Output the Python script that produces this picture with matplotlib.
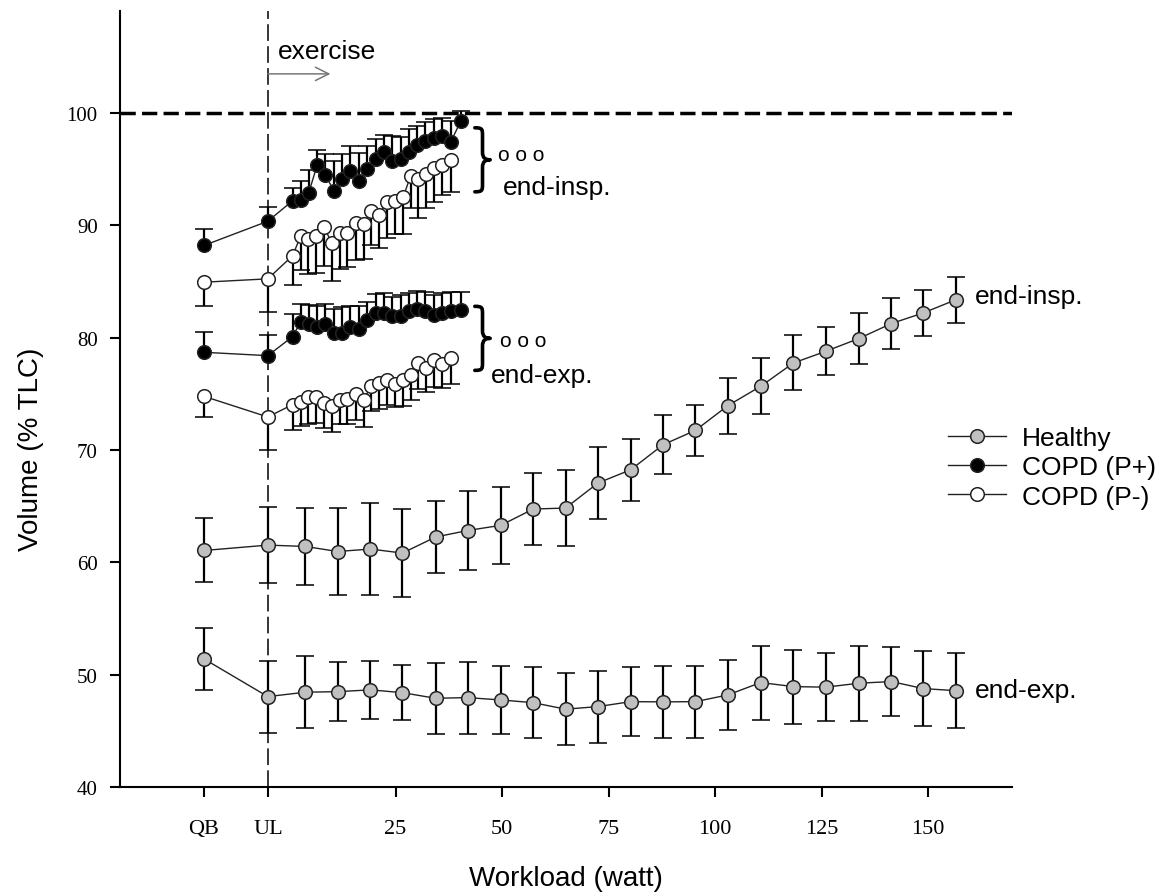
import numpy as np
import matplotlib.pyplot as plt
from matplotlib.path import Path
from matplotlib.patches import PathPatch

plt.rcParams['font.family'] = ['Liberation Sans', 'DejaVu Sans']
plt.rcParams['lines.scale_dashes'] = False

# x axis: QB and UL are placed left of the watt scale
tick_pos = [-20, -5, 25, 50, 75, 100, 125, 150]
tick_labels = ["QB", "UL", "25", "50", "75", "100", "125", "150"]

# Healthy
healthy_x = [-20, -5, 3.8, 11.4, 19.1, 26.6, 34.4, 41.9, 49.7, 57.3, 64.9, 72.5,
             80.2, 87.8, 95.4, 103.0, 110.7, 118.4, 126.0, 133.7, 141.4, 148.9, 156.6]
healthy_insp = [61.06, 61.54, 61.42, 60.97, 61.19, 60.83, 62.26, 62.84, 63.3, 64.75, 64.84, 67.07,
                68.25, 70.48, 71.76, 73.96, 75.68, 77.76, 78.8, 79.93, 81.27, 82.22, 83.4]
healthy_insp_err = [2.85, 3.4, 3.4, 3.85, 4.1, 3.9, 3.2, 3.55, 3.4, 3.2, 3.4, 3.2,
                    2.75, 2.65, 2.3, 2.5, 2.5, 2.45, 2.15, 2.3, 2.3, 2.05, 2.05]
healthy_exp = [51.41, 48.05, 48.44, 48.49, 48.65, 48.4, 47.9, 47.96, 47.75, 47.51, 46.93, 47.16,
               47.6, 47.58, 47.6, 48.2, 49.3, 48.94, 48.89, 49.24, 49.39, 48.76, 48.58]
healthy_exp_err = [2.75, 3.2, 3.2, 2.6, 2.6, 2.45, 3.15, 3.2, 3.0, 3.15, 3.2, 3.2,
                   3.1, 3.2, 3.2, 3.1, 3.3, 3.3, 3.05, 3.35, 3.1, 3.35, 3.35]

# COPD (P+)
pplus_x = [-20, -5, 0.8, 2.7, 4.6, 6.6, 8.5, 10.5, 12.5, 14.4, 16.4, 18.3, 20.3,
           22.2, 24.2, 26.2, 28.1, 30.1, 32.0, 34.0, 36.0, 37.9, 40.3]
pplus_insp = [88.22, 90.38, 92.2, 92.3, 92.9, 95.4, 94.5, 93.1, 94.1, 94.85, 93.95, 95.0, 95.9,
              96.5, 95.7, 95.9, 96.5, 97.2, 97.5, 97.8, 98.0, 97.4, 99.3]
pplus_insp_err = [1.5, 1.25, 1.1, 1.7, 2.0, 1.35, 1.85, 2.6, 2.3, 2.2, 2.5, 2.1, 1.8,
                  1.6, 2.3, 2.0, 2.1, 1.7, 1.7, 1.7, 1.6, 1.9, 0.9]
pplus_exp = [78.71, 78.41, 80.1, 81.4, 81.2, 81.0, 81.2, 80.4, 80.4, 81.0, 80.8, 81.6, 82.2,
             82.2, 81.9, 81.9, 82.35, 82.6, 82.35, 82.05, 82.2, 82.35, 82.45]
pplus_exp_err = [1.8, 1.8, 2.0, 1.6, 1.7, 1.8, 1.8, 2.2, 2.3, 1.8, 2.0, 1.6, 1.7,
                 1.8, 1.7, 1.9, 1.6, 1.6, 1.7, 1.8, 1.8, 1.7, 1.6]

# COPD (P-)
pminus_x = [-20, -5, 0.8, 2.7, 4.5, 6.4, 8.1, 10.1, 11.9, 13.7, 15.6, 17.5, 19.3,
            21.1, 22.9, 24.9, 26.8, 28.5, 30.3, 32.2, 34.0, 36.0, 38.0]
pminus_insp = [84.95, 85.25, 87.3, 89.05, 88.8, 89.1, 89.9, 88.4, 89.35, 89.3, 90.2, 90.1, 91.3,
               90.9, 92.1, 92.2, 92.55, 94.4, 94.1, 94.6, 95.1, 95.35, 95.8]
pminus_insp_err = [2.1, 2.95, 2.6, 3.0, 3.1, 3.3, 3.5, 3.3, 3.2, 3.0, 3.3, 3.1, 3.0,
                   2.9, 3.2, 3.0, 3.3, 2.8, 3.4, 3.0, 3.0, 2.6, 2.8]
pminus_exp = [74.79, 72.95, 74.05, 74.25, 74.7, 74.7, 74.2, 73.9, 74.5, 74.55, 75.0, 74.5, 75.7,
              76.0, 76.2, 75.9, 76.2, 76.7, 77.8, 77.3, 78.05, 77.7, 78.2]
pminus_exp_err = [1.8, 2.9, 2.3, 2.1, 2.4, 2.3, 2.2, 2.3, 2.2, 2.2, 2.3, 2.4, 2.2,
                  2.3, 2.2, 2.1, 2.3, 2.2, 2.4, 2.1, 2.4, 2.2, 2.3]

fig = plt.figure(figsize=(11.65, 8.95), dpi=100)
ax = fig.add_axes([120 / 1165, 107 / 895, 892 / 1165, 776 / 895])

line_kw = dict(color='#222222', lw=1.0, ms=9.8, mew=1.1, ecolor='black',
               elinewidth=1.6, capsize=6.8, capthick=1.6)


def draw(x, y, err, face, side=None):
    e = np.asarray(err)
    z = np.zeros_like(e)
    if side == 'up':
        yerr = [z, e]
    elif side == 'down':
        yerr = [e, z]
    else:
        yerr = e
    eb = ax.errorbar(x, y, yerr=yerr, fmt='o', ls='-', mfc=face, mec='#222222', **line_kw)
    # hide the caps of the zero-length half
    if side == 'up':
        eb[1][0].set_visible(False)
    elif side == 'down':
        eb[1][1].set_visible(False)
    return eb


def brace(x0, y0, y1, w):
    # right-facing curly brace from y0 (bottom) to y1 (top), width w (data units)
    ym = (y0 + y1) / 2
    xm = x0 + w * 0.5
    r = (y1 - y0) * 0.12
    verts = [(x0, y1),
             (xm, y1), (xm, y1 - r * 0.2), (xm, y1 - r),
             (xm, ym + r),
             (xm, ym + r * 0.2), (xm + w * 0.2, ym), (x0 + w, ym),
             (xm + w * 0.2, ym), (xm, ym - r * 0.2), (xm, ym - r),
             (xm, y0 + r),
             (xm, y0 + r * 0.2), (xm, y0), (x0, y0)]
    codes = [Path.MOVETO,
             Path.CURVE4, Path.CURVE4, Path.CURVE4,
             Path.LINETO,
             Path.CURVE4, Path.CURVE4, Path.CURVE4,
             Path.CURVE4, Path.CURVE4, Path.CURVE4,
             Path.LINETO,
             Path.CURVE4, Path.CURVE4, Path.CURVE4]
    ax.add_patch(PathPatch(Path(verts, codes), fc='none', ec='black', lw=2.6,
                           capstyle='round', joinstyle='round'))


h = draw(healthy_x, healthy_insp, healthy_insp_err, '#c0c0c0')
draw(healthy_x, healthy_exp, healthy_exp_err, '#c0c0c0')
m = draw(pminus_x, pminus_insp, pminus_insp_err, 'white', side='down')
draw(pminus_x, pminus_exp, pminus_exp_err, 'white', side='down')
p = draw(pplus_x, pplus_insp, pplus_insp_err, 'black', side='up')
draw(pplus_x, pplus_exp, pplus_exp_err, 'black', side='up')

# reference lines
ax.axhline(100, color='black', lw=2.5, dashes=(11, 4.5), zorder=1)
ax.axvline(-5, color='black', lw=1.1, dashes=(12, 3.8), zorder=1)

# exercise arrow
ax.annotate('', xy=(9.7, 103.5), xytext=(-5, 103.5),
            arrowprops=dict(arrowstyle='->', color='#777777', lw=1.1,
                            mutation_scale=24, shrinkA=0, shrinkB=0))
ax.text(-2.7, 105.5, 'exercise', fontsize=19, va='center', ha='left')

# braces and labels for COPD comparisons
brace(43.6, 93.0, 98.7, 3.6)
ax.text(49.0, 96.3, 'o o o', fontsize=15, va='center', ha='left')
ax.text(50.2, 93.4, 'end-insp.', fontsize=19, va='center', ha='left')
brace(43.6, 77.1, 82.8, 3.6)
ax.text(49.5, 79.8, 'o o o', fontsize=15, va='center', ha='left')
ax.text(47.4, 76.7, 'end-exp.', fontsize=19, va='center', ha='left')

ax.text(160.9, 83.7, 'end-insp.', fontsize=19, va='center', ha='left')
ax.text(160.9, 48.6, 'end-exp.', fontsize=19, va='center', ha='left')

ax.set_xlim(-39.7, 169.7)
ax.set_ylim(40, 109.1)
ax.set_xticks(tick_pos)
ax.set_xticklabels(tick_labels, fontfamily='Liberation Serif', fontsize=16)
ax.set_yticks(np.arange(40, 101, 10))
ax.set_yticklabels([str(v) for v in range(40, 101, 10)], fontfamily='Liberation Serif', fontsize=15)
ax.tick_params(axis='x', direction='out', length=7, width=1.5, pad=16)
ax.tick_params(axis='y', direction='out', length=7, width=1.5, pad=9)

for s in ['top', 'right']:
    ax.spines[s].set_visible(False)
for s in ['left', 'bottom']:
    ax.spines[s].set_linewidth(1.5)

ax.set_xlabel('Workload (watt)', fontsize=20)
ax.xaxis.set_label_coords(0.5, -0.1)
ax.set_ylabel('Volume (% TLC)', fontsize=20, va='center', ha='center')
ax.yaxis.set_label_coords(-0.1, 0.436)

ax.legend([h[0], p[0], m[0]], ['Healthy', 'COPD (P+)', 'COPD (P-)'],
          loc='center left', bbox_to_anchor=(0.928, 0.412), frameon=False,
          fontsize=19, numpoints=1, handlelength=2.2, handletextpad=0.6,
          labelspacing=0.2, borderaxespad=0, borderpad=0)

fig.savefig('out.png', dpi=100)
